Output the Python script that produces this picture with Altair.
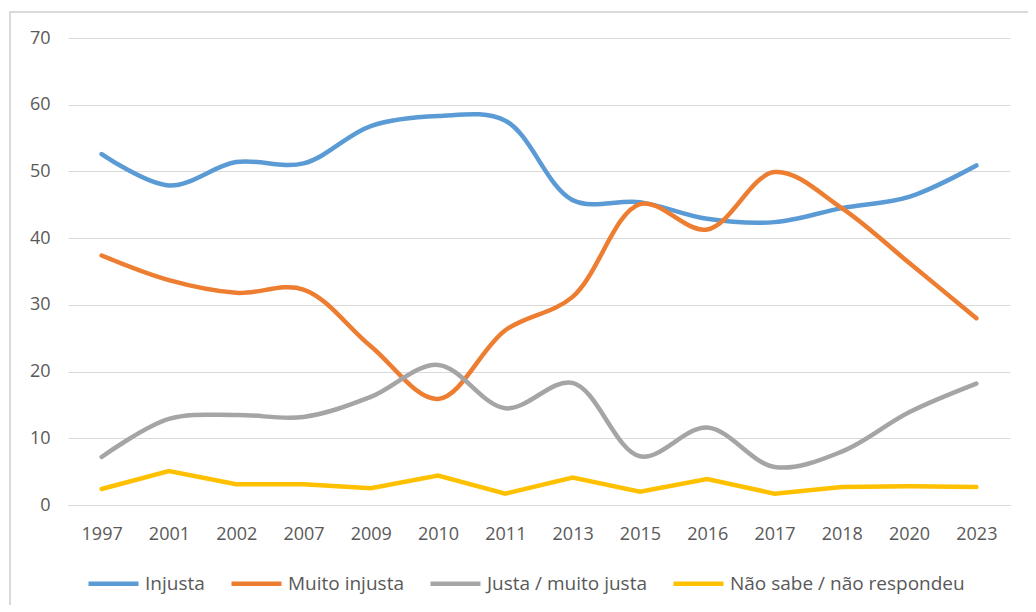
import altair as alt
import pandas as pd

years = ["1997", "2001", "2002", "2007", "2009", "2010", "2011", "2013",
         "2015", "2016", "2017", "2018", "2020", "2023"]
series_names = ["Injusta", "Muito injusta", "Justa / muito justa", "Não sabe / não respondeu"]
injusta = [52.6, 47.9, 51.4, 51.2, 56.8, 58.3, 57.6, 45.7, 45.4, 42.9, 42.4, 44.5, 46.2, 50.9]
muito_injusta = [37.4, 33.7, 31.8, 32.3, 23.8, 15.9, 26.2, 31.2, 45.1, 41.3, 49.9, 44.5, 36.3, 28.0]
justa = [7.2, 12.9, 13.5, 13.2, 16.2, 21.0, 14.5, 18.3, 7.3, 11.6, 5.7, 8.0, 13.9, 18.2]
nao_sabe = [2.4, 5.1, 3.1, 3.1, 2.5, 4.4, 1.7, 4.1, 2.0, 3.9, 1.7, 2.7, 2.8, 2.7]
colors = ["#5B9BD5", "#ED7D31", "#A5A5A5", "#FFC000"]

rows = []
for name, vals in zip(series_names, [injusta, muito_injusta, justa, nao_sabe]):
    for y, v in zip(years, vals):
        rows.append({"ano": y, "serie": name, "valor": v, "ordem": series_names.index(name)})
df = pd.DataFrame(rows)

FONT = "Open Sans"
TXT = "#595959"
GRID = "#D9D9D9"

x = alt.X("ano:N", sort=years, title=None,
          scale=alt.Scale(paddingOuter=0.5),
          axis=alt.Axis(labelAngle=0, ticks=False, domainColor=GRID, labelPadding=20,
                        labelColor=TXT, labelFontSize=18, labelFont=FONT, grid=False))
y = alt.Y("valor:Q", title=None,
          scale=alt.Scale(domain=[0, 70]),
          axis=alt.Axis(values=[0, 10, 20, 30, 40, 50, 60, 70], ticks=False, domain=False,
                        gridColor=GRID, labelPadding=18, labelColor=TXT,
                        labelFontSize=18, labelFont=FONT))
color = alt.Color("serie:N", sort=series_names,
                  scale=alt.Scale(domain=series_names, range=colors),
                  legend=alt.Legend(title=None, orient="none", direction="horizontal",
                                    legendX=18, legendY=518,
                                    symbolType="stroke", symbolSize=2500,
                                    symbolStrokeWidth=4.5, labelOffset=4,
                                    columnPadding=17, labelFontSize=19,
                                    labelFont=FONT, labelColor=TXT, labelLimit=400))

base = alt.Chart(df)

frame = alt.Chart(pd.DataFrame({"k": [0]})).mark_rect(
    fill=None, stroke=GRID, strokeWidth=2, clip=False
).encode(x=alt.value(-58), x2=alt.value(1200), y=alt.value(-26), y2=alt.value(800))

smooth = base.transform_filter(
    alt.datum.serie != "Não sabe / não respondeu"
).mark_line(interpolate="catmull-rom", strokeWidth=4.5, strokeCap="round").encode(
    x=x, y=y, color=color, order="ordem:Q"
)
straight = base.transform_filter(
    alt.datum.serie == "Não sabe / não respondeu"
).mark_line(interpolate="linear", strokeWidth=4.5, strokeCap="round").encode(
    x=x, y=y, color=color
)

chart = alt.layer(frame, smooth, straight).properties(
    width=942, height=467,
    autosize=alt.AutoSizeParams(type="none"),
    padding={"left": 60, "top": 30, "right": 18, "bottom": 100},
).configure(background="white").configure_view(stroke=None)

chart.save("out.html", embed_options={"renderer": "svg", "actions": False})
